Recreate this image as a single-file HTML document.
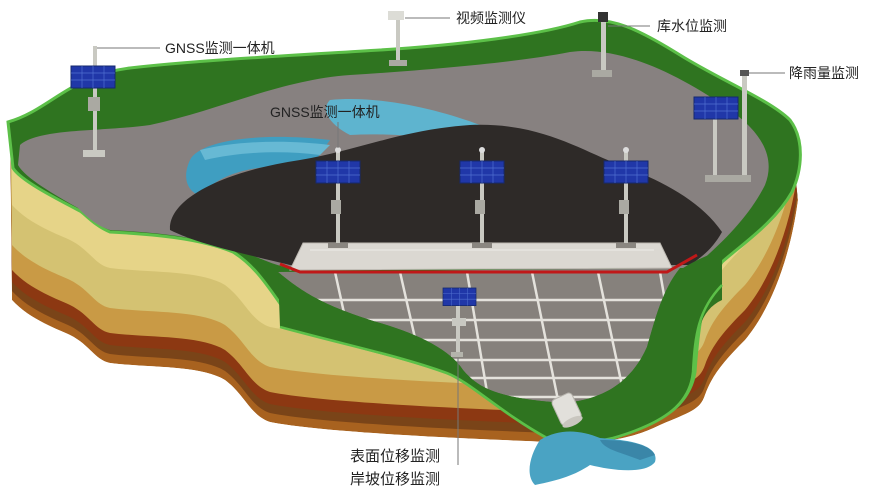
<!DOCTYPE html>
<html><head><meta charset="utf-8"><style>
html,body{margin:0;padding:0;background:#fff;}
svg{display:block;}
text{font-family:"Liberation Sans","Noto Sans CJK SC",sans-serif;fill:#222;}
</style></head><body>
<svg width="879" height="493" viewBox="0 0 879 493" xmlns="http://www.w3.org/2000/svg">
<defs>
<path id="P" d="M10,125 L12,300 C30,320 60,330 70,335 C90,345 95,360 110,363 C150,368 200,365 225,380 C245,395 250,415 270,422 C320,432 450,438 550,442 C600,444 630,440 660,425 C690,412 700,410 705,395 C712,375 725,360 745,340 C770,310 790,260 798,200 L790,130 L400,120 Z"/>
<clipPath id="cp"><use href="#P"/></clipPath>
<path id="FL" d="M278,272 C300,290 320,305 380,323 C420,335 450,350 463,370 C480,390 500,398 563,403 C600,400 630,385 647,347 C655,320 662,290 680,268 Z"/>
<clipPath id="cf"><use href="#FL"/></clipPath>
<g id="panel"><rect x="0" y="0" width="44" height="22" fill="#2037a8" stroke="#15286e" stroke-width="1"/>
<path d="M11,0V22M22,0V22M33,0V22M0,7H44M0,14H44" stroke="#4f6fd0" stroke-width="0.7"/></g>
</defs>
<!-- earth layers -->
<g clip-path="url(#cp)">
<use href="#P" fill="#a8621f"/>
<use href="#P" fill="#7a4418" transform="translate(0,-9)"/>
<use href="#P" fill="#8c3812" transform="translate(0,-18)"/>
<use href="#P" fill="#c99a45" transform="translate(0,-30)"/>
<use href="#P" fill="#d4c272" transform="translate(0,-55)"/>
<use href="#P" fill="#e6d488" transform="translate(0,-95)"/>
</g>
<!-- outer green -->
<path d="M8,122 C50,110 70,75 130,68 C200,60 300,55 380,50 C460,45 540,35 580,22 C610,15 640,30 680,55 C720,80 770,100 790,120 C805,140 802,170 792,192 C775,222 745,242 722,262 C702,292 698,330 695,372 C690,402 668,422 613,438 C580,446 560,441 547,438 C500,412 470,382 447,373 C400,356 350,346 300,330 C275,300 262,270 233,252 C200,238 150,234 110,232 C95,226 85,214 80,211 C55,198 20,180 13,168 Z" fill="#2f7420" stroke="#5cc048" stroke-width="3"/>
<!-- gray interior -->
<path d="M20,145 C40,128 100,132 150,125 C220,110 280,80 350,75 C430,70 520,62 570,52 C620,45 680,75 730,110 C765,135 775,160 765,185 C750,215 725,240 700,262 L690,268 L290,268 C270,265 250,252 233,250 C200,236 150,232 110,230 C95,225 85,215 78,208 C55,195 25,178 18,165 Z" fill="#878180"/>
<!-- water -->
<path d="M330,100 C380,95 440,110 480,125 C500,132 505,140 495,145 C450,140 400,132 350,135 C330,125 320,110 330,100Z" fill="#5eb4cf"/>
<path d="M190,160 C200,140 260,132 330,140 L310,168 C260,162 220,172 200,196 C185,190 183,175 190,160Z" fill="#3f9ec1"/>
<path d="M200,150 C240,140 290,140 330,145 L320,155 C280,150 240,152 205,160Z" fill="#67b9d4"/>
<!-- dark pile -->
<path d="M170,230 C168,200 220,172 300,160 C360,150 400,130 470,125 C540,122 580,150 620,165 C660,180 700,200 722,232 C712,250 700,258 690,265 L290,265 C250,255 200,245 170,230Z" fill="#2e2a28"/>
<!-- floor -->
<use href="#FL" fill="#86817c"/>
<g stroke="#e4e2dc" stroke-width="2.5" clip-path="url(#cf)">
<path d="M270,300H700M270,320H700M270,340H700M270,360H700M270,378H700M270,397H700"/>
<path d="M335,272L350,340M400,272L420,360M467,272L490,410M532,272L560,410M598,272L625,400M660,272L670,330"/>
</g>
<!-- tray -->
<polygon points="303,243 660,243 672,268 290,270" fill="#dbd8d2" stroke="#bdb9b2" stroke-width="1"/>
<path d="M310,250H654" stroke="#eeece8" stroke-width="1"/>
<polyline points="280,264 300,272 667,272 697,255" fill="none" stroke="#c01818" stroke-width="3"/>
<!-- front green slope -->
<path d="M278,272 C300,290 320,305 380,323 C420,335 450,350 463,370 C480,390 500,398 563,403 C600,400 630,385 647,347 C655,320 662,290 680,270 C692,262 705,256 722,250 L722,300 C700,310 695,335 693,372 C690,402 668,422 613,438 C580,446 560,441 547,438 C500,412 470,382 447,373 C400,356 350,346 280,327 Z" fill="#2f7420"/>
<path d="M280,327 C350,346 400,356 447,373 C470,382 500,412 547,438 C560,441 580,446 613,438 C668,422 690,402 693,372 C695,335 698,310 722,285" fill="none" stroke="#5cc048" stroke-width="2.5"/>
<!-- pipe & water -->
<path d="M540,440 C560,428 580,430 600,438 C630,440 660,445 655,462 C645,475 610,470 590,465 C575,475 560,480 535,485 C525,475 530,455 540,440Z" fill="#4aa3c3"/>
<path d="M600,440 C630,440 650,445 655,455 L640,460 C620,452 605,450 600,440Z" fill="#3a86a8"/>
<g transform="rotate(-25 567 410)"><rect x="556" y="395" width="22" height="28" rx="4" fill="#e2e0db" stroke="#b8b5ae"/><ellipse cx="567" cy="423" rx="11" ry="4" fill="#c9c6bf"/></g>
<!-- stations -->
<g fill="#c9c9c2">
<rect x="93" y="46" width="4" height="104"/><rect x="83" y="150" width="22" height="7"/><rect x="88" y="97" width="12" height="14" fill="#aaa9a2"/>
<rect x="396" y="20" width="4" height="42"/><rect x="389" y="60" width="18" height="6" fill="#aaa9a2"/><rect x="388" y="11" width="16" height="9" fill="#dcdcd6"/>
<rect x="601" y="20" width="5" height="52"/><rect x="592" y="70" width="20" height="7" fill="#aaa9a2"/><rect x="598" y="12" width="10" height="10" fill="#333"/>
<rect x="742" y="70" width="5" height="107"/><rect x="713" y="118" width="4" height="60"/><rect x="705" y="175" width="46" height="7" fill="#aaa9a2"/><rect x="740" y="70" width="9" height="6" fill="#555"/>
<rect x="336" y="150" width="4" height="95"/><rect x="328" y="243" width="20" height="5" fill="#8a8680"/><rect x="331" y="200" width="10" height="14" fill="#aaa9a2"/>
<rect x="480" y="150" width="4" height="95"/><rect x="472" y="243" width="20" height="5" fill="#8a8680"/><rect x="475" y="200" width="10" height="14" fill="#aaa9a2"/>
<rect x="624" y="150" width="4" height="95"/><rect x="616" y="243" width="20" height="5" fill="#8a8680"/><rect x="619" y="200" width="10" height="14" fill="#aaa9a2"/>
<rect x="456" y="303" width="4" height="52"/><rect x="451" y="352" width="12" height="5" fill="#b4b4ac"/><rect x="452" y="318" width="14" height="8"/>
</g>
<circle cx="338" cy="150" r="3" fill="#ddd"/><circle cx="482" cy="150" r="3" fill="#ddd"/><circle cx="626" cy="150" r="3" fill="#ddd"/>
<use href="#panel" transform="translate(71,66)"/>
<use href="#panel" transform="translate(694,97)"/>
<use href="#panel" transform="translate(316,161)"/>
<use href="#panel" transform="translate(460,161)"/>
<use href="#panel" transform="translate(604,161)"/>
<use href="#panel" transform="translate(443,288) scale(0.75,0.8)"/>
<!-- leader lines -->
<g stroke="#777" stroke-width="1" fill="none">
<path d="M97,48H160"/><path d="M405,18H450"/><path d="M608,26H650"/><path d="M749,73H785"/>
<path d="M338,122V148"/><path d="M458,358V465"/>
</g>
<g font-size="14">
<text x="165" y="53">GNSS监测一体机</text>
<text x="456" y="23">视频监测仪</text>
<text x="657" y="31">库水位监测</text>
<text x="789" y="78">降雨量监测</text>
<text x="270" y="117">GNSS监测一体机</text>
</g>
<g font-size="15">
<text x="350" y="461">表面位移监测</text>
<text x="350" y="484">岸坡位移监测</text>
</g>
</svg>
</body></html>
